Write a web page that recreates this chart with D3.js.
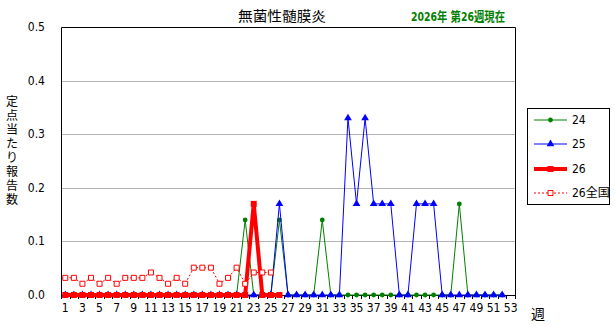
<!DOCTYPE html>
<html>
<head>
<meta charset="utf-8">
<script src="https://cdn.jsdelivr.net/npm/d3@7"></script>
<style>
  body { margin: 0; background: #fff; }
  text { font-family: "Liberation Sans Narrow", "DejaVu Sans Condensed", "Noto Sans CJK JP", sans-serif; }
</style>
</head>
<body>
<div id="chart"></div>
<script>
// weeks and values
var weeks = d3.range(1, 54)
var tickWeeks = weeks.filter(w => w % 2 == 1)
var yTicks = [0, 0.1, 0.2, 0.3, 0.4, 0.5]

var s24 = [0, 0, 0, 0, 0, 0, 0, 0, 0, 0,
  0, 0, 0, 0, 0, 0, 0, 0, 0, 0,
  0, 0.14, 0, 0, 0, 0.14, 0, 0, 0, 0,
  0.14, 0, 0, 0, 0, 0, 0, 0, 0, 0,
  0, 0, 0, 0, 0, 0, 0.17, 0, 0, 0,
  0, 0]
var s25 = [0, 0, 0, 0, 0, 0, 0, 0, 0, 0,
  0, 0, 0, 0, 0, 0, 0, 0, 0, 0,
  0, 0, 0, 0, 0, 0.17, 0, 0, 0, 0,
  0, 0, 0, 0.33, 0.17, 0.33, 0.17, 0.17, 0.17, 0,
  0, 0.17, 0.17, 0.17, 0, 0, 0, 0, 0, 0,
  0, 0]
var s26 = [0, 0, 0, 0, 0, 0, 0, 0, 0, 0,
  0, 0, 0, 0, 0, 0, 0, 0, 0, 0,
  0, 0, 0.17, 0, 0, 0]
var s26all = [0.032, 0.032, 0.021, 0.032, 0.021, 0.032, 0.021, 0.032, 0.032, 0.032,
  0.042, 0.032, 0.021, 0.032, 0.021, 0.051, 0.051, 0.051, 0.021, 0.032,
  0.051, 0.021, 0.042, 0.042, 0.042]

var seriesNames = ["24", "25", "26", "26全国"]

var svg = d3.select("#chart").append("svg")
  .attr("width", 615)
  .attr("height", 326)

var plotLeft = 61, plotRight = 515, plotTop = 27, plotBottom = 295

var x = d3.scaleBand().domain(weeks).range([plotLeft, plotRight])
var y = d3.scaleLinear().domain([0, 0.5]).range([plotBottom, plotTop])
var cx = w => x(w) + x.bandwidth() / 2

// grid lines
svg.append("g").selectAll("line")
  .data(yTicks.filter(t => t > 0 && t < 0.5))
  .enter().append("line")
  .attr("x1", plotLeft).attr("x2", plotRight)
  .attr("y1", d => Math.round(y(d)) + 0.5).attr("y2", d => Math.round(y(d)) + 0.5)
  .attr("stroke", "#b4b4b4")
  .attr("stroke-width", 1)

// frame (left, top, right)
svg.append("path")
  .attr("d", "M" + (plotLeft + 0.5) + "," + plotBottom + "V" + (plotTop + 0.5) + "H" + (plotRight + 0.5) + "V" + plotBottom)
  .attr("fill", "none")
  .attr("stroke", "#000")

// y labels
svg.append("g").selectAll("text")
  .data(yTicks)
  .enter().append("text")
  .attr("x", 45)
  .attr("y", d => y(d) + 4)
  .attr("text-anchor", "end")
  .attr("font-size", 12)
  .text(d => d3.format(".1f")(d))

// x axis
var xAxis = svg.append("g")
xAxis.append("line")
  .attr("x1", plotLeft).attr("x2", plotRight + 1)
  .attr("y1", plotBottom + 0.5).attr("y2", plotBottom + 0.5)
  .attr("stroke", "#000")
xAxis.selectAll(".tk")
  .data(weeks.concat([54]))
  .enter().append("line")
  .attr("x1", d => Math.round(d == 54 ? plotRight : x(d)) + 0.5)
  .attr("x2", d => Math.round(d == 54 ? plotRight : x(d)) + 0.5)
  .attr("y1", plotBottom).attr("y2", plotBottom + 4)
  .attr("stroke", "#000")
xAxis.selectAll("text")
  .data(tickWeeks)
  .enter().append("text")
  .attr("x", d => cx(d))
  .attr("y", 312)
  .attr("text-anchor", "middle")
  .attr("font-size", 12)
  .text(d => d)

var line = d3.line()
  .x((d, i) => cx(weeks[i]))
  .y(d => y(d))

function drawSeries(data, color, width, dash, marker) {
  var g = svg.append("g")
  g.append("path")
    .datum(data)
    .attr("d", line)
    .attr("fill", "none")
    .attr("stroke", color)
    .attr("stroke-width", width)
    .attr("stroke-dasharray", dash)
    .attr("stroke-linejoin", "round")
  g.selectAll(".m")
    .data(data)
    .enter().append("path")
    .attr("transform", (d, i) => "translate(" + cx(weeks[i]) + "," + y(d) + ")")
    .each(function () { marker(d3.select(this)) })
}

var circleMark = s => s.attr("d", d3.symbol(d3.symbolCircle, 18)).attr("fill", "#008000")
var triMark = s => s.attr("d", d3.symbol(d3.symbolTriangle, 26)).attr("fill", "#0000ff")
var squareMark = s => s.attr("d", "M-3,-3H3V3H-3Z").attr("fill", "#ff0000")
var hollowMark = s => s.attr("d", "M-2.5,-2.5H2.5V2.5H-2.5Z").attr("fill", "#fff").attr("stroke", "#ff0000").attr("stroke-width", 1)

drawSeries(s24, "#008000", 1, null, circleMark)
drawSeries(s25, "#0000ff", 1, null, triMark)
drawSeries(s26, "#ff0000", 4, null, squareMark)
drawSeries(s26all, "#ff0000", 1, "2,2", hollowMark)

// titles
svg.append("text")
  .attr("x", 282).attr("y", 21)
  .attr("text-anchor", "middle")
  .attr("font-size", 14)
  .attr("textLength", 88)
  .attr("lengthAdjust", "spacingAndGlyphs")
  .text("無菌性髄膜炎")

svg.append("text")
  .attr("x", 411).attr("y", 21)
  .attr("font-size", 13)
  .attr("font-weight", "bold")
  .attr("fill", "#008000")
  .attr("textLength", 94)
  .attr("lengthAdjust", "spacingAndGlyphs")
  .text("2026年 第26週現在")

// y axis title, one char per row
var yTitle = "定点当たり報告数".split("")
svg.append("g").selectAll("text")
  .data(yTitle)
  .enter().append("text")
  .attr("x", 12)
  .attr("y", (d, i) => 106 + i * 14)
  .attr("text-anchor", "middle")
  .attr("font-size", 12)
  .text(d => d)

svg.append("text")
  .attr("x", 538).attr("y", 319)
  .attr("text-anchor", "middle")
  .attr("font-size", 14)
  .text("週")

// legend
var legend = svg.append("g")
legend.append("rect")
  .attr("x", 527.5).attr("y", 108.5)
  .attr("width", 82).attr("height", 96)
  .attr("fill", "#fff")
  .attr("stroke", "#000")

var legY = [120, 144, 169, 193]
var legStyle = [
  { color: "#008000", width: 1, dash: null, marker: circleMark },
  { color: "#0000ff", width: 1, dash: null, marker: triMark },
  { color: "#ff0000", width: 4, dash: null, marker: squareMark },
  { color: "#ff0000", width: 1, dash: "2,2", marker: hollowMark }
]
seriesNames.forEach((name, i) => {
  var st = legStyle[i]
  legend.append("line")
    .attr("x1", 534).attr("x2", 567)
    .attr("y1", legY[i]).attr("y2", legY[i])
    .attr("stroke", st.color)
    .attr("stroke-width", st.width)
    .attr("stroke-dasharray", st.dash)
  st.marker(legend.append("path").attr("transform", "translate(550.5," + legY[i] + ")"))
  legend.append("text")
    .attr("x", 572).attr("y", legY[i] + 4)
    .attr("font-size", 12)
    .text(name)
})
</script>
</body>
</html>
